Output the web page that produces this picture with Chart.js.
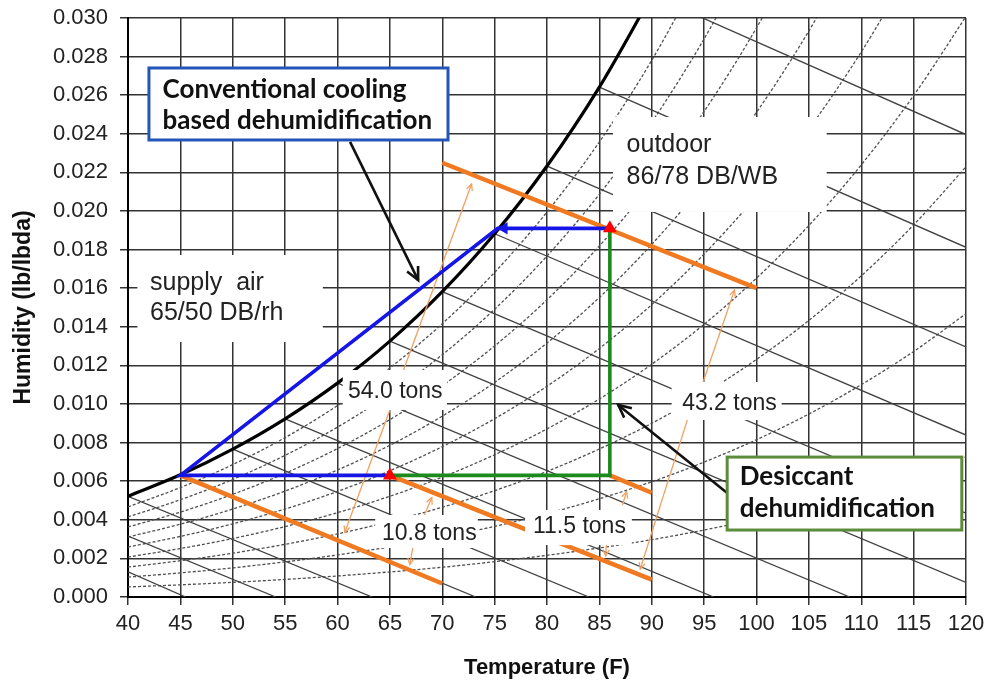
<!DOCTYPE html>
<html>
<head>
<meta charset="utf-8">
<script src="https://cdn.jsdelivr.net/npm/chart.js@4.4.0/dist/chart.umd.min.js"></script>
<style>
  body { margin: 0; background: #fff; }
</style>
</head>
<body>
<canvas id="chart" width="987" height="686"></canvas>
<script>
// dry bulb temperatures (F) the curves are read at
const tempF = [40, 45, 50, 55, 60, 65, 70, 75, 80, 85, 90, 95, 100, 105, 110, 115, 120]

// saturation curve (lb/lbda)
const satW = [0.00522, 0.00633, 0.00766, 0.00923, 0.01108, 0.01326, 0.01582, 0.01882, 0.02233, 0.02642, 0.03117]

// relative humidity curves, 90% down to 10%
const rh90 = [0.00467, 0.00567, 0.00686, 0.00826, 0.00992, 0.01187, 0.01416, 0.01682, 0.01995, 0.02358, 0.02781, 0.03273]
const rh80 = [0.00415, 0.00504, 0.00609, 0.00734, 0.00880, 0.01053, 0.01255, 0.01491, 0.01767, 0.02087, 0.02460, 0.02892, 0.03393]
const rh70 = [0.00363, 0.00440, 0.00532, 0.00641, 0.00769, 0.00919, 0.01095, 0.01301, 0.01540, 0.01819, 0.02142, 0.02516, 0.02949, 0.03449]
const rh60 = [0.00311, 0.00377, 0.00456, 0.00549, 0.00658, 0.00786, 0.00937, 0.01112, 0.01316, 0.01552, 0.01827, 0.02144, 0.02511, 0.02933, 0.03419]
const rh50 = [0.00259, 0.00314, 0.00379, 0.00456, 0.00547, 0.00654, 0.00779, 0.00924, 0.01092, 0.01288, 0.01515, 0.01777, 0.02078, 0.02425, 0.02824, 0.03281]
const rh40 = [0.00207, 0.00251, 0.00303, 0.00365, 0.00437, 0.00522, 0.00621, 0.00737, 0.00871, 0.01026, 0.01206, 0.01413, 0.01652, 0.01925, 0.02239, 0.02598, 0.03008]
const rh30 = [0.00155, 0.00188, 0.00227, 0.00273, 0.00327, 0.00391, 0.00465, 0.00551, 0.00651, 0.00767, 0.00900, 0.01054, 0.01231, 0.01433, 0.01664, 0.01928, 0.02229]
const rh20 = [0.00103, 0.00125, 0.00151, 0.00182, 0.00218, 0.00260, 0.00309, 0.00366, 0.00432, 0.00509, 0.00597, 0.00699, 0.00815, 0.00948, 0.01100, 0.01272, 0.01468]
const rh10 = [0.00052, 0.00063, 0.00076, 0.00091, 0.00109, 0.00130, 0.00154, 0.00183, 0.00216, 0.00254, 0.00297, 0.00347, 0.00405, 0.00470, 0.00545, 0.00630, 0.00726]

// wet bulb lines 30..90 F: [T start, W start, T end, W end]
const wbLines = [
  [40, 0.00130, 45.5, 0],
  [40, 0.00316, 54.1, 0],
  [40, 0.00522, 63.3, 0],
  [45, 0.00633, 73.2, 0],
  [50, 0.00766, 84.0, 0],
  [55, 0.00923, 95.9, 0],
  [60, 0.01108, 108.9, 0],
  [65, 0.01326, 120, 0.00075],
  [70, 0.01582, 120, 0.00434],
  [75, 0.01882, 120, 0.00839],
  [80, 0.02233, 120, 0.01296],
  [85, 0.02642, 120, 0.01812],
  [90, 0.03117, 120, 0.02396]
]

// process paths
const coolT = [86, 75.3, 45, 65]
const coolW = [0.0191, 0.0191, 0.0063, 0.0063]
const desT = [65, 86, 86]
const desW = [0.0063, 0.0063, 0.0191]
const stateT = [65, 86]
const stateW = [0.0063, 0.0191]

// constant enthalpy lines (orange)
const enthLines = [
  [70, 0.0225, 100, 0.0160],
  [45, 0.0063, 70, 0.0007],
  [65, 0.0063, 90, 0.0009],
  [86, 0.0063, 90, 0.0054]
]

// load arrows from the tons labels: [T from, W from, T to, W to]
const loadArrows = [
  [66.2, 0.01161, 72.8, 0.02140],
  [65.0, 0.00969, 60.7, 0.00335],
  [68.3, 0.00425, 69.0, 0.00515],
  [67.2, 0.00259, 66.9, 0.00168],
  [87.2, 0.00477, 87.6, 0.00546],
  [85.7, 0.00295, 85.6, 0.00212],
  [94.9, 0.01114, 97.9, 0.01590],
  [93.6, 0.00953, 88.9, 0.00145]
]
const calloutArrows = [
  [61.2, 0.02358, 67.7, 0.01642],
  [97.2, 0.00539, 86.8, 0.00995]
]

// notes: box [T0, W0, T1, W1], first line anchor [T, W]
const notes = [
  { box: [86.3, 0.02487, 106.7, 0.01995], at: [87.6, 0.02340], lines: ['outdoor', '86/78 DB/WB'], size: 25, gap: 32 },
  { box: [40.9, 0.01772, 58.6, 0.01321], at: [42.1, 0.01627], lines: ['supply  air', '65/50 DB/rh'], size: 25, gap: 30 },
  { box: [60.5, 0.01176, 70.45, 0.00969], at: [61.0, 0.01062], lines: ['54.0 tons'], size: 23 },
  { box: [91.9, 0.01114, 102.4, 0.00917], at: [92.9, 0.01000], lines: ['43.2 tons'], size: 23 },
  { box: [63.6, 0.00425, 73.4, 0.00254], at: [64.25, 0.00326], lines: ['10.8 tons'], size: 23 },
  { box: [77.9, 0.00451, 88.1, 0.00269], at: [78.66, 0.00363], lines: ['11.5 tons'], size: 23 },
  { box: [42.0, 0.02741, 70.55, 0.02368], at: [43.3, 0.02627], lines: ['Conventional cooling', 'based dehumidification'], size: 26, gap: 31, bold: true, border: '#2356b8' },
  { box: [97.2, 0.00725, 119.6, 0.00347], at: [98.4, 0.00622], lines: ['Desiccant', 'dehumidification'], size: 26, gap: 32, bold: true, border: '#5b8c3a' }
]

const pts = (xs, ys) => ys.map((v, i) => ({ x: xs[i], y: v }))
const seg = s => [{ x: s[0], y: s[1] }, { x: s[2], y: s[3] }]

const datasets = []
const line = (data, color, width, extra) => datasets.push(Object.assign({
  data: data, borderColor: color, backgroundColor: color, borderWidth: width,
  showLine: true, pointRadius: 0, fill: false
}, extra || {}))

;[rh90, rh80, rh70, rh60, rh50, rh40, rh30, rh20, rh10].forEach(r =>
  line(pts(tempF, r), '#505050', 1.3, { borderDash: [3, 2], cubicInterpolationMode: 'monotone' }))
wbLines.forEach(s => line(seg(s), '#404040', 1.3))
line(pts(tempF, satW), '#000', 3.2, { cubicInterpolationMode: 'monotone' })
enthLines.forEach(s => line(seg(s), '#f07a22', 4.5))
loadArrows.forEach(s => line(seg(s), '#f2a060', 1.3, { arrow: 7 }))
calloutArrows.forEach(s => line(seg(s), '#111', 2.6, { arrow: 14 }))
line(pts(desT, desW), '#1d8a1d', 3.6)
line(pts(coolT, coolW), '#1515e6', 3.6)
line([{ x: 75.9, y: 0.0191 }], '#1515e6', 0, { showLine: false, pointRadius: 7, pointStyle: 'triangle', rotation: -90 })
line(pts(stateT, stateW), '#ff0000', 0, { showLine: false, pointRadius: 8, pointStyle: 'triangle' })
datasets.forEach((d, i) => { d.order = datasets.length - i })

const overlay = {
  id: 'overlay',
  afterDatasetsDraw(chart) {
    const { ctx } = chart
    const X = v => chart.scales.x.getPixelForValue(v)
    const Y = v => chart.scales.y.getPixelForValue(v)
    ctx.save()
    notes.forEach(n => {
      const x0 = X(n.box[0]), y0 = Y(n.box[1]), x1 = X(n.box[2]), y1 = Y(n.box[3])
      ctx.fillStyle = '#fff'
      ctx.fillRect(x0, y0, x1 - x0, y1 - y0)
      if (n.border) {
        ctx.strokeStyle = n.border
        ctx.lineWidth = 3
        ctx.strokeRect(x0, y0, x1 - x0, y1 - y0)
      }
      ctx.fillStyle = n.bold ? '#111' : '#222'
      ctx.font = (n.bold ? 'bold ' : '') + n.size + 'px ' + (n.bold ? 'Lato, "Open Sans", sans-serif' : '"Liberation Sans", Arial, sans-serif')
      ctx.textAlign = 'left'
      ctx.textBaseline = 'middle'
      n.lines.forEach((t, k) => ctx.fillText(t, X(n.at[0]), Y(n.at[1]) + k * (n.gap || 0)))
    })
    // open arrow heads
    chart.data.datasets.forEach((d, i) => {
      if (!d.arrow) return
      const m = chart.getDatasetMeta(i).data
      const a = m[m.length - 2], b = m[m.length - 1]
      const ang = Math.atan2(b.y - a.y, b.x - a.x)
      ctx.strokeStyle = d.borderColor
      ctx.lineWidth = d.borderWidth
      ctx.beginPath()
      ctx.moveTo(b.x - d.arrow * Math.cos(ang - 0.45), b.y - d.arrow * Math.sin(ang - 0.45))
      ctx.lineTo(b.x, b.y)
      ctx.lineTo(b.x - d.arrow * Math.cos(ang + 0.45), b.y - d.arrow * Math.sin(ang + 0.45))
      ctx.stroke()
    })
    ctx.restore()
  }
}

Chart.defaults.font.family = '"Liberation Sans", Arial, sans-serif'
Chart.defaults.color = '#222'

const ctx = document.getElementById('chart').getContext('2d')
const myChart = new Chart(ctx, {
  type: 'scatter',
  data: { datasets: datasets },
  options: {
    responsive: false,
    animation: false,
    layout: { padding: { top: 18, right: 21, left: 0, bottom: 0 } },
    plugins: { legend: { display: false }, tooltip: { enabled: false } },
    scales: {
      x: {
        min: 40, max: 120,
        // labels may overflow the plot edge, like the original
        afterFit: s => { s.height = 89; s.paddingLeft = 0; s.paddingRight = 0 },
        ticks: { stepSize: 5, autoSkip: false, maxRotation: 0, padding: 6, font: { size: 22 } },
        grid: { color: '#333', lineWidth: 1.5, tickLength: 8 },
        border: { color: '#000', width: 2 },
        title: { display: true, text: 'Temperature (F)', font: { size: 22, weight: 'bold' }, color: '#111', padding: { bottom: 5 } }
      },
      y: {
        min: 0, max: 0.03,
        afterFit: s => { s.width = 128; s.paddingTop = 0; s.paddingBottom = 0 },
        ticks: { stepSize: 0.002, autoSkip: false, padding: 12, font: { size: 22 }, callback: v => v.toFixed(3) },
        grid: { color: '#333', lineWidth: 1.5, tickLength: 8 },
        border: { color: '#000', width: 2 },
        title: { display: true, text: 'Humidity (lb/lbda)', font: { size: 23, weight: 'bold' }, color: '#111', padding: { top: 10 } }
      }
    }
  },
  plugins: [overlay]
})
</script>
</body>
</html>
